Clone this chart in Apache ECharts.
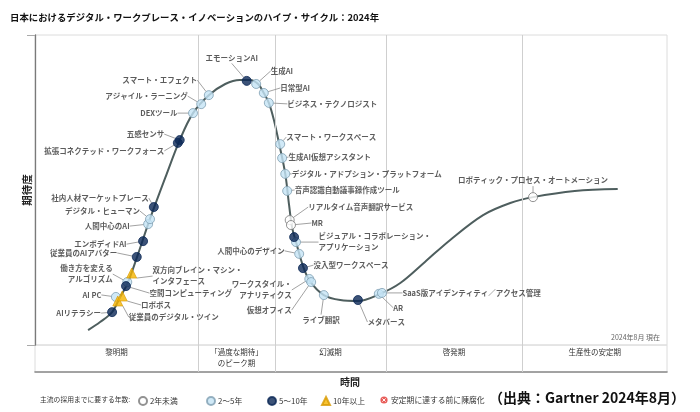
<!DOCTYPE html>
<html><head><meta charset="utf-8">
<script src="https://cdn.jsdelivr.net/npm/echarts@6/dist/echarts.min.js"></script>
<style>html,body{margin:0;padding:0;background:#fff}#c{width:700px;height:412px}</style>
</head><body><div id="c"></div>
<script>
const FONT = '"Noto Sans CJK JP","Noto Sans",sans-serif';

// hype curve (time 0-100, expectation 0-100)
const curveX = [8.4,10.3,12.2,13.4,14.6,16.1,17.9,19.0,20.6,22.9,25.0,27.5,30.1,32.4,34.0,35.3,36.2,37.0,37.8,38.6,39.6,40.2,40.7,41.3,42.4,43.5,45.7,48.3,51.1,54.6,57.8,61.7,65.7,70.9,75.2,78.8,85.4,92.2];
const curveY = [4.8,7.4,10.6,15.2,19.7,28.1,39.0,45.2,53.9,66.1,74.8,80.6,84.2,85.5,85.5,84.2,81.3,78.1,72.6,65.2,55.2,45.2,37.7,33.2,25.5,20.6,16.1,14.5,14.2,16.5,20.0,26.8,33.9,41.9,45.8,47.7,49.7,50.3];

const phaseNames = ['黎明期','「過度な期待」\nのピーク期','幻滅期','啓発期','生産性の安定期'];
const phaseBounds = [0,25.8,38.0,55.5,77.1,100];

const categories = ['2年未満','2～5年','5～10年','10年以上','安定期に達する前に陳腐化'];

const techNames = ['AIリテラシー','従業員のデジタル・ツイン','ロボボス','AI PC','空間コンピューティング','働き方を変える\nアルゴリズム','双方向ブレイン・マシン・\nインタフェース','従業員のAIアバター','エンボディドAI','人間中心のAI','デジタル・ヒューマン','社内人材マーケットプレース','拡張コネクテッド・ワークフォース','五感センサ','DEXツール','アジャイル・ラーニング','スマート・エフェクト','エモーションAI','生成AI','日常型AI','ビジネス・テクノロジスト','スマート・ワークスペース','生成AI仮想アシスタント','デジタル・アドプション・プラットフォーム','音声認識自動議事録作成ツール','リアルタイム音声翻訳サービス','MR','','ビジュアル・コラボレーション・\nアプリケーション','人間中心のデザイン','没入型ワークスペース','ワークスタイル・\nアナリティクス','仮想オフィス','ライブ翻訳','メタバース','AR','SaaS版アイデンティティ／アクセス管理','ロボティック・プロセス・オートメーション'];
const techX = [12.2,13.1,13.8,12.8,14.4,14.6,15.3,16.1,17.1,17.9,18.2,18.8,22.6,22.9,25.0,26.3,27.5,33.5,35.0,36.2,37.0,38.8,39.1,39.6,39.9,40.3,40.5,41.0,41.3,41.8,42.4,43.4,43.7,45.7,51.1,54.4,54.9,78.8];
const techY = [10.6,14.2,15.8,15.5,19.0,20.3,23.2,28.4,33.5,39.0,40.6,44.5,65.2,66.1,74.8,77.7,80.6,85.2,84.2,81.3,78.1,64.8,60.3,55.2,49.7,40.3,38.7,34.8,33.2,29.4,24.8,21.3,20.3,16.1,14.5,16.5,16.8,47.7];
const techCat = [2,3,3,1,2,1,3,2,2,1,1,2,2,2,1,1,1,2,1,1,1,1,1,1,1,0,0,2,1,1,2,1,1,1,2,1,1,0];

// label placement: [side, dx, dy] per technology (same order)
const labelPlace = [['left',-6,1],['right',5.5,16],['right',13.5,9],['left',-9.5,-2],['right',18.5,7],['left',-9.5,-8],['right',15.5,3],['left',-14.5,-4],['left',-11.5,3],['left',-13.5,2],['left',-5,-8],['left',0,-9],['left',-8.5,8],['left',-10.5,-6],['left',-10.5,0],['left',-8.5,-8],['left',-6.5,-15],['top',-15,-12.5],['right',9.5,-13],['right',11.5,-5],['right',13.5,1],['right',1,-7],['right',1.5,-1],['right',1.5,0],['right',2.5,-1],['right',13.5,-13],['right',15.5,-2],['right',0,0],['right',17.5,0],['left',-9.5,-3],['right',5.5,-3],['left',-12.5,11],['left',-14.5,28],['right',-26.5,25],['right',4.5,22],['right',9.5,14],['right',15.5,0],['top',0,-6]];

const redIcon = 'image://data:image/svg+xml;utf8,' + encodeURIComponent("<svg xmlns='http://www.w3.org/2000/svg' width='20' height='20'><circle cx='10' cy='10' r='9' fill='#e3342f'/><path d='M6 6L14 14M14 6L6 14' stroke='#fff' stroke-width='2.4'/></svg>");

const catStyle = [
  {symbol:'circle', size:9, item:{color:'#ffffff', borderColor:'#777', borderWidth:1}},
  {symbol:'circle', size:9, item:{color:'#c4e4f5', borderColor:'#7f9fb2', borderWidth:1}},
  {symbol:'circle', size:9, item:{color:'#0b2856', borderColor:'#0b2856', borderWidth:1}},
  {symbol:'triangle', size:10, item:{color:'#f5b400', borderColor:'#d89a00', borderWidth:0.8}},
  {symbol:redIcon, size:9, item:{color:'#e3342f'}}
];

const placeByName = {};
techNames.forEach((n,i)=>{ placeByName[n] = labelPlace[i]; });

const labelText = {fontFamily:FONT, fontSize:7.5, fontWeight:'bold', color:'#333', lineHeight:11};

const techSeries = categories.map((cat, ci) => ({
  type:'scatter', name:cat, xAxisIndex:0, yAxisIndex:0, z: ci===3 ? 6 : 5,
  symbol: catStyle[ci].symbol, symbolSize: catStyle[ci].size,
  itemStyle: catStyle[ci].item,
  label:{show:true, formatter:'{b}', distance:0, ...labelText},
  labelLine:{show:true, lineStyle:{color:'#8a8a8a', width:0.8}},
  labelLayout: function(p){ const L = placeByName[p.text]; return L ? {dx:L[1], dy:L[2]} : {}; },
  data: techNames.map((n,i)=>i).filter(i=>techCat[i]===ci).map(i=>({
    name: techNames[i], value:[techX[i], techY[i]],
    label:{position: labelPlace[i][0], show: techNames[i] !== '', align: labelPlace[i][0]==='left' ? 'right' : (labelPlace[i][0]==='right' ? 'left' : 'center')}
  })),
  emphasis:{disabled:true}
}));

const chart = echarts.init(document.getElementById('c'), null, {renderer:'canvas'});
chart.setOption({
  animation:false,
  textStyle:{fontFamily:FONT},
  title:[
    {text:'日本におけるデジタル・ワークプレース・イノベーションのハイプ・サイクル：2024年', left:5, top:8, textStyle:{fontFamily:FONT, fontSize:9.4, fontWeight:'bold', color:'#111'}},
    {text:'時間', left:'center', top:372, textStyle:{fontFamily:FONT, fontSize:10, fontWeight:'bold', color:'#222'}},
    {text:'2024年8月 現在', right:35, top:329, textStyle:{fontFamily:FONT, fontSize:7, fontWeight:'normal', color:'#666'}},
    {text:'主流の採用までに要する年数:', left:35, top:391, textStyle:{fontFamily:FONT, fontSize:6.8, fontWeight:'normal', color:'#333'}},
    {text:'（出典：Gartner 2024年8月）', left:484, top:386, textStyle:{fontFamily:FONT, fontSize:14, fontWeight:'bold', color:'#111'}}
  ],
  legend: categories.map((c,i)=>({
    data:[{name:c, icon: i===4 ? redIcon : (i===3 ? 'triangle' : 'circle')}],
    left:[133,201,262,316,375][i], top:391, itemWidth:8, itemHeight:8, itemGap:4, padding:[5,5,5,5],
    selectedMode:false,
    textStyle:{fontFamily:FONT, fontSize:7.8, color:'#333', padding:[0,0,0,-2]}
  })),
  grid:[
    {left:35, top:35, width:632, height:310, show:true, borderColor:'#dcdcdc', borderWidth:1},
    {left:35, top:345, width:632, height:27, show:true, borderColor:'#dcdcdc', borderWidth:1}
  ],
  xAxis:[
    {gridIndex:0, type:'value', min:0, max:100, axisLine:{show:false}, axisTick:{show:false}, axisLabel:{show:false}, splitLine:{show:false}},
    {gridIndex:1, type:'value', min:0, max:100, position:'top', axisLine:{show:true, lineStyle:{color:'#8a8a8a', width:1.6}}, axisTick:{show:false}, axisLabel:{show:false}, splitLine:{show:false}}
  ],
  yAxis:[
    {gridIndex:0, type:'value', min:0, max:100, interval:100, name:'期待度', nameLocation:'middle', nameGap:3, nameRotate:90,
     nameTextStyle:{fontFamily:FONT, fontSize:10.5, fontWeight:'bold', color:'#222'},
     axisLine:{show:true, lineStyle:{color:'#7a7a7a', width:1.3}}, axisTick:{show:true, length:8, lineStyle:{color:'#aaa'}}, axisLabel:{show:false}, splitLine:{show:false}},
    {gridIndex:1, type:'value', min:0, max:1, show:false}
  ],
  series:[
    {type:'line', name:'curve', xAxisIndex:0, yAxisIndex:0, z:3, smooth:0.35, showSymbol:false, symbol:'none',
     lineStyle:{color:'#4e5e5e', width:2}, data: curveX.map((x,i)=>[x, curveY[i]]), silent:true,
     markLine:{silent:true, symbol:'none', label:{show:false}, lineStyle:{color:'#cfcfcf', type:'solid', width:1},
       data: phaseBounds.slice(1,-1).map(b=>({xAxis:b}))}},
    {type:'scatter', name:'phases', xAxisIndex:1, yAxisIndex:1, symbolSize:0, data:[[0,0]], silent:true,
     markLine:{silent:true, symbol:'none', label:{show:false}, lineStyle:{color:'#cfcfcf', type:'solid', width:1},
       data: phaseBounds.slice(1,-1).map(b=>({xAxis:b}))},
     markArea:{silent:true, itemStyle:{color:'rgba(0,0,0,0)'},
       label:{show:true, position:'insideTop', distance:2, fontFamily:FONT, fontSize:7.5, color:'#333', lineHeight:11},
       data: phaseNames.map((n,i)=>[{name:n, xAxis:phaseBounds[i]}, {xAxis:phaseBounds[i+1]}])}},
    ...techSeries
  ]
});
</script></body></html>
